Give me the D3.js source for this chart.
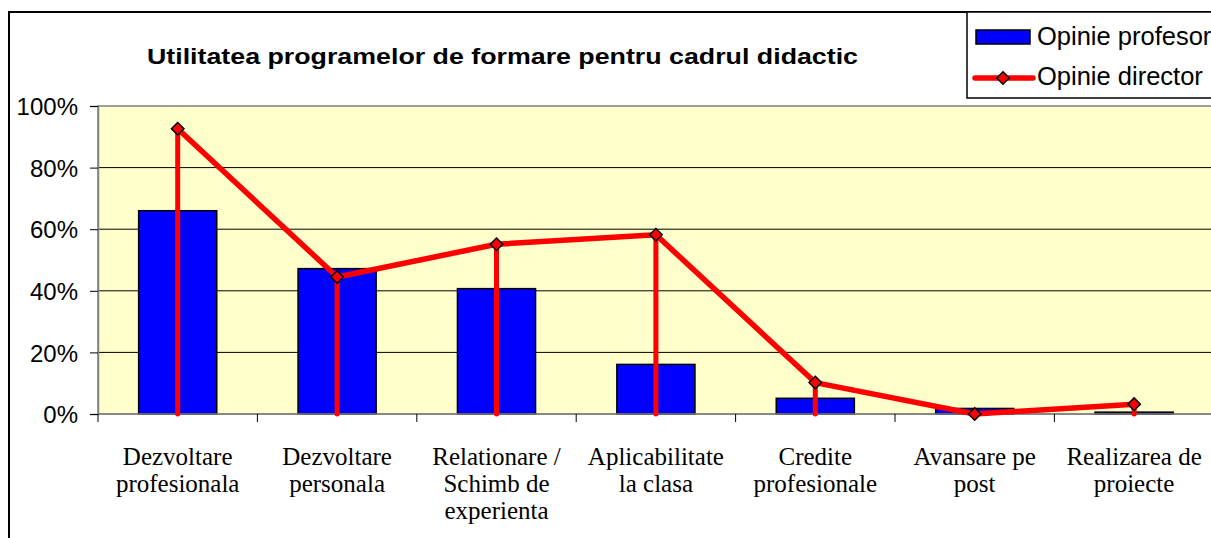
<!DOCTYPE html>
<meta charset="utf-8">
<script src="https://d3js.org/d3.v7.min.js"></script>
<style>
body { margin: 0; background: #fff; }
text { fill: #000; }
.tick-label { font: 24px Arial, "Liberation Sans", sans-serif; }
.cat-label { font: 25px "Times New Roman", "Liberation Serif", serif; }
.legend-label { font: 25.5px Arial, "Liberation Sans", sans-serif; }
</style>
<body>
<script>
var categories = [
    ['Dezvoltare', 'profesionala'],
    ['Dezvoltare', 'personala'],
    ['Relationare /', 'Schimb de', 'experienta'],
    ['Aplicabilitate', 'la clasa'],
    ['Credite', 'profesionale'],
    ['Avansare pe', 'post'],
    ['Realizarea de', 'proiecte']
];
var profesori = [0.66, 0.472, 0.407, 0.161, 0.051, 0.018, 0.006];
var directori = [0.926, 0.445, 0.551, 0.582, 0.102, 0.0, 0.032];
var yTicks = [0, 0.2, 0.4, 0.6, 0.8, 1.0];
var seriesNames = ['Opinie profesor', 'Opinie director'];

var W = 1211, H = 538;
var plot = {left: 98, top: 106, bottom: 414, right: 98 + 7 * 159.4};

var svg = d3.select('body')
    .append('svg')
    .attr('width', W)
    .attr('height', H);

// chart frame
svg.append('rect')
    .attr('x', 9).attr('y', 12)
    .attr('width', W + 20).attr('height', H + 20)
    .attr('fill', '#fff')
    .attr('stroke', '#000')
    .attr('stroke-width', 2);

var x = d3.scaleBand()
    .domain(d3.range(categories.length))
    .range([plot.left, plot.right])
    .paddingInner(0)
    .paddingOuter(0);

var y = d3.scaleLinear()
    .domain([0, 1])
    .range([plot.bottom, plot.top]);

// plot area
svg.append('rect')
    .attr('x', plot.left).attr('y', plot.top)
    .attr('width', plot.right - plot.left)
    .attr('height', plot.bottom - plot.top)
    .attr('fill', '#ffffcc')
    .attr('stroke', '#808080')
    .attr('stroke-width', 1.5);

// gridlines
svg.append('g')
    .selectAll('line')
    .data(yTicks.filter(function(d) { return d > 0 && d < 1; }))
    .enter().append('line')
    .attr('x1', plot.left).attr('x2', plot.right)
    .attr('y1', function(d) { return y(d); })
    .attr('y2', function(d) { return y(d); })
    .attr('stroke', '#000')
    .attr('stroke-width', 1);

// y axis
var yAxis = d3.axisLeft(y)
    .tickValues(yTicks)
    .tickFormat(d3.format('.0%'))
    .tickSize(8)
    .tickPadding(12);

var gy = svg.append('g')
    .attr('transform', 'translate(' + plot.left + ',0)')
    .call(yAxis);
gy.select('.domain').attr('stroke', '#808080').attr('stroke-width', 1.5);
gy.selectAll('.tick line').attr('stroke', '#000');
gy.selectAll('.tick text')
    .attr('class', 'tick-label')
    .attr('font-family', null).attr('font-size', null)
    .attr('dy', '0.36em');

// bars
svg.append('g')
    .selectAll('rect')
    .data(profesori)
    .enter().append('rect')
    .attr('x', function(d, i) { return x(i) + x.bandwidth() * 0.255; })
    .attr('width', x.bandwidth() * 0.49)
    .attr('y', function(d) { return y(d); })
    .attr('height', function(d) { return y(0) - y(d); })
    .attr('fill', '#0000ff')
    .attr('stroke', '#000')
    .attr('stroke-width', 1.5);

// x axis line + ticks at category boundaries
svg.append('line')
    .attr('x1', plot.left).attr('x2', plot.right)
    .attr('y1', plot.bottom).attr('y2', plot.bottom)
    .attr('stroke', '#808080')
    .attr('stroke-width', 1.5);

svg.append('g')
    .selectAll('line')
    .data(d3.range(categories.length + 1))
    .enter().append('line')
    .attr('x1', function(d) { return plot.left + d * x.step(); })
    .attr('x2', function(d) { return plot.left + d * x.step(); })
    .attr('y1', plot.bottom)
    .attr('y2', plot.bottom + 8)
    .attr('stroke', '#000');

// category labels
var cat = svg.append('g')
    .selectAll('text')
    .data(categories)
    .enter().append('text')
    .attr('class', 'cat-label')
    .attr('text-anchor', 'middle')
    .attr('x', function(d, i) { return x(i) + x.bandwidth() / 2; })
    .attr('y', 465);
cat.selectAll('tspan')
    .data(function(d) { return d; })
    .enter().append('tspan')
    .attr('x', function() { return d3.select(this.parentNode).attr('x'); })
    .attr('dy', function(d, i) { return i == 0 ? 0 : 27; })
    .text(function(d) { return d; });

// director line with drop lines
var cx = function(i) { return x(i) + x.bandwidth() / 2; };

svg.append('g')
    .selectAll('line')
    .data(directori)
    .enter().append('line')
    .attr('x1', function(d, i) { return cx(i); })
    .attr('x2', function(d, i) { return cx(i); })
    .attr('y1', function(d) { return y(d); })
    .attr('y2', y(0))
    .attr('stroke', '#ff0000')
    .attr('stroke-width', 5)
    .attr('stroke-linecap', 'round');

var line = d3.line()
    .x(function(d, i) { return cx(i); })
    .y(function(d) { return y(d); });

svg.append('path')
    .attr('d', line(directori))
    .attr('fill', 'none')
    .attr('stroke', '#ff0000')
    .attr('stroke-width', 5.5)
    .attr('stroke-linejoin', 'round');

var diamond = d3.symbol().type(d3.symbolDiamond2).size(100);

svg.append('g')
    .selectAll('path')
    .data(directori)
    .enter().append('path')
    .attr('d', diamond)
    .attr('transform', function(d, i) { return 'translate(' + cx(i) + ',' + y(d) + ')'; })
    .attr('fill', '#ff0000')
    .attr('stroke', '#000')
    .attr('stroke-width', 1.5);

// title - the original is drawn wider than plain Arial bold
svg.append('text')
    .text('Utilitatea programelor de formare pentru cadrul didactic')
    .attr('x', 147)
    .attr('y', 64)
    .attr('textLength', 711)
    .attr('lengthAdjust', 'spacingAndGlyphs')
    .style('font', 'bold 22px Arial, "Liberation Sans", sans-serif');

// legend
var legend = svg.append('g');
legend.append('rect')
    .attr('x', 967).attr('y', 12)
    .attr('width', 300).attr('height', 86)
    .attr('fill', '#fff')
    .attr('stroke', '#000')
    .attr('stroke-width', 1.5);

legend.append('rect')
    .attr('x', 976).attr('y', 30)
    .attr('width', 54).attr('height', 14)
    .attr('fill', '#0000ff')
    .attr('stroke', '#000')
    .attr('stroke-width', 1.5);

legend.append('line')
    .attr('x1', 975).attr('x2', 1033)
    .attr('y1', 78).attr('y2', 78)
    .attr('stroke', '#ff0000')
    .attr('stroke-width', 5.5)
    .attr('stroke-linecap', 'round');

legend.append('path')
    .attr('d', diamond)
    .attr('transform', 'translate(1003,78)')
    .attr('fill', '#ff0000')
    .attr('stroke', '#000')
    .attr('stroke-width', 1.5);

legend.selectAll('text.legend-label')
    .data(seriesNames)
    .enter().append('text')
    .attr('class', 'legend-label')
    .attr('x', 1037)
    .attr('y', function(d, i) { return 45 + i * 40; })
    .text(function(d) { return d; });
</script>
</body>
</html>
